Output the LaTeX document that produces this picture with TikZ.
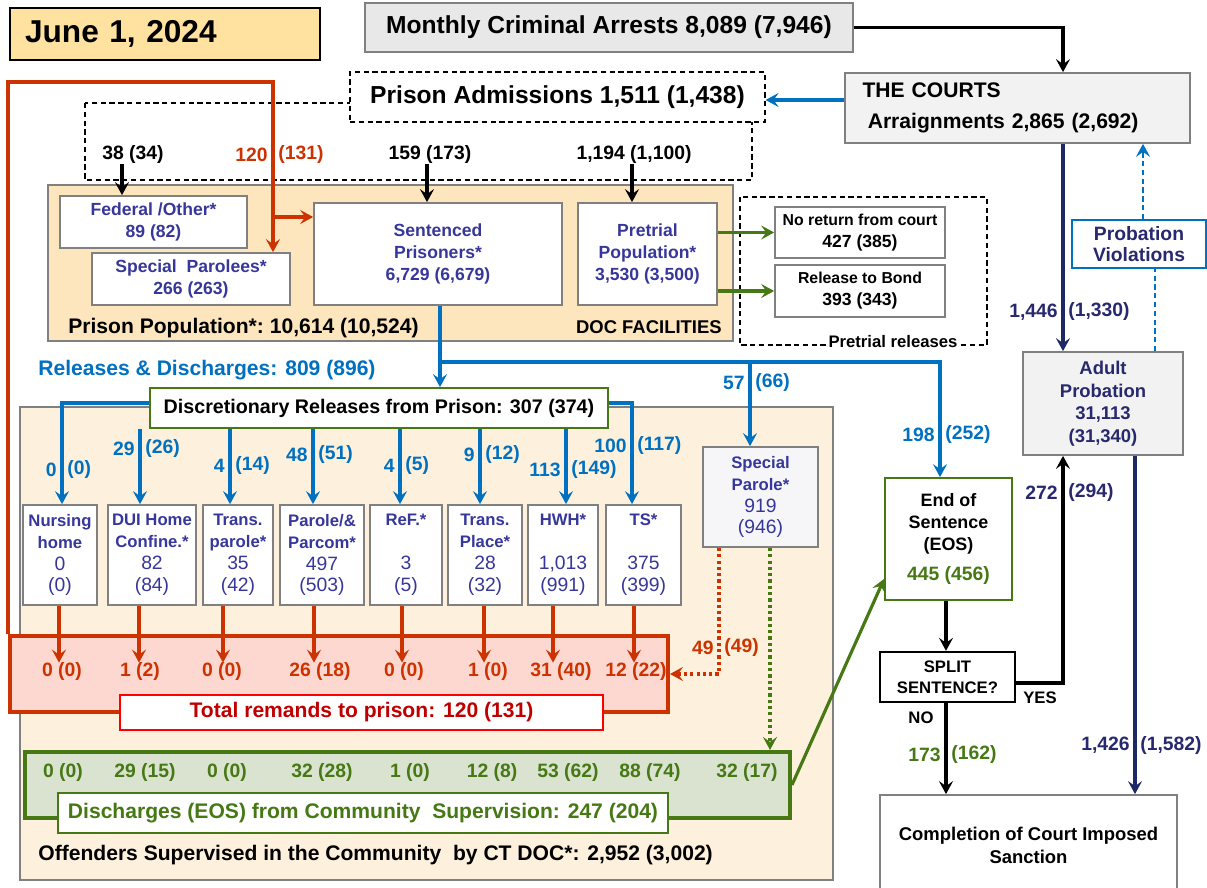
\documentclass[tikz,border=0pt]{standalone}
\usepackage{fontspec}
\setmainfont{Liberation Sans}
\usepackage{tikz}
\usetikzlibrary{shapes,arrows.meta,positioning}

\definecolor{datefill}{RGB}{255,226,160}
\definecolor{grayfill}{RGB}{232,232,232}
\definecolor{boxgray}{RGB}{242,242,242}
\definecolor{spgray}{RGB}{246,246,248}
\definecolor{docfill}{RGB}{253,229,190}
\definecolor{commfill}{RGB}{253,240,220}
\definecolor{remfill}{RGB}{252,216,208}
\definecolor{disfill}{RGB}{217,227,208}
\definecolor{arrblue}{RGB}{0,112,192}
\definecolor{remred}{RGB}{204,51,0}
\definecolor{totred}{RGB}{192,0,0}
\definecolor{boxgreen}{RGB}{70,120,20}
\definecolor{txtindigo}{RGB}{55,55,155}
\definecolor{navyline}{RGB}{30,40,100}
\definecolor{navytxt}{RGB}{40,40,110}
\definecolor{edgegray}{RGB}{128,128,128}

\newcommand{\fsz}[2]{\fontsize{#1}{#2}\selectfont}
% two halves of a flow label, split by the line
\newcommand{\numpair}[6]{%
  \node[#2, anchor=east] (#1a) at (#3-5,#4) {#5};
  \node[#2, anchor=west] (#1b) at (#3+5,#4) {#6};}
\newcommand{\progtext}[4]{#1\\#2\\{\mdseries\fsz{11}{13}#3}\\{\mdseries\fsz{11}{13}#4}}

\tikzstyle{box} = [rectangle, draw=edgegray, line width=1pt, inner sep=0pt, align=center]
\tikzstyle{area} = [rectangle, draw=edgegray, line width=1pt, inner sep=0pt]
\tikzstyle{dashbox} = [draw=black, line width=0.7pt, dash pattern=on 3pt off 2pt]
\tikzstyle{docbox} = [box, fill=white, text=txtindigo, font=\fsz{10}{12.5}\bfseries]
\tikzstyle{prog} = [box, fill=white, text=txtindigo, minimum height=2cm,
  font=\fsz{9.5}{12.5}\bfseries]
\tikzstyle{tip} = [-{Stealth[length=2.6mm,width=2.8mm,inset=1mm]}]
\tikzstyle{karrow} = [draw=black, line width=1.8pt, tip]
\tikzstyle{barrow} = [draw=arrblue, line width=1.8pt, tip]
\tikzstyle{rarrow} = [draw=remred, line width=1.8pt, tip]
\tikzstyle{garrow} = [draw=boxgreen, line width=1.8pt, tip]
\tikzstyle{narrow} = [draw=navyline, line width=1.8pt, tip]
\tikzstyle{dots} = [dash pattern=on 1.8pt off 1.8pt]
\tikzstyle{num} = [inner sep=0pt, font=\fsz{11}{13}\bfseries]
\tikzstyle{blbl} = [num, text=arrblue]

\begin{document}
\begin{tikzpicture}[x=0.02cm, y=-0.02cm]
  \useasboundingbox (0,0) rectangle (1207,888);

  % shaded areas
  \node[area, fill=docfill, minimum width=13.7cm, minimum height=3.12cm] (doc) at (390.5,263) {};
  \node[area, fill=commfill, minimum width=16.26cm, minimum height=9.46cm] (comm) at (426.5,643.5) {};
  \draw[dashbox] (85,103) rectangle (752,180);
  \draw[dashbox] (740,197) rectangle (987,345);

  % top row
  \node[box, draw=black, fill=datefill, minimum width=6.2cm, minimum height=1.04cm,
    text width=5.6cm, inner xsep=0.3cm, align=left, font=\fsz{18}{22}\bfseries] (date) at (165,34) {June 1, 2024};
  \node[box, fill=grayfill, minimum width=9.76cm, minimum height=0.98cm,
    font=\fsz{14}{17}\bfseries] (arrests) at (609,27.5) {Monthly Criminal Arrests 8,089 (7,946)};
  \node[box, fill=boxgray, minimum width=6.9cm, minimum height=1.4cm, text width=6.2cm,
    inner xsep=0.35cm, align=left, font=\fsz{12}{15}\bfseries] (courts) at (1017.5,108) {THE COURTS\\[3pt]\hspace*{3pt}Arraignments 2,865 (2,692)};
  \node[box, draw=black, dash pattern=on 3pt off 2pt, line width=0.7pt, fill=white,
    minimum width=8.3cm, minimum height=1cm, font=\fsz{14}{17}\bfseries] (adm) at (557.5,97) {Prison Admissions 1,511 (1,438)};

  \node[num] (n38) at (133,155) {38 (34)};
  \numpair{n120}{num, text=remred}{273}{155}{120}{(131)}
  \node[num] (n159) at (430,155) {159 (173)};
  \node[num] (n1194) at (634,155) {1,194 (1,100)};

  % DOC facilities
  \node[docbox, minimum width=3.74cm, minimum height=1.04cm] (fed) at (153.5,222) {Federal /Other*\\89 (82)};
  \node[docbox, minimum width=3.96cm, minimum height=1.04cm] (specpar) at (191,279) {Special\ \ Parolees*\\266 (263)};
  \node[docbox, minimum width=4.96cm, minimum height=2.04cm] (sent) at (438,254) {Sentenced\\Prisoners*\\6,729 (6,679)};
  \node[docbox, minimum width=2.78cm, minimum height=2.04cm] (pre) at (647.5,254) {Pretrial\\Population*\\3,530 (3,500)};
  \node[num, anchor=west, font=\fsz{12}{14}\bfseries] (poptxt) at (68,328) {Prison Population*:\ 10,614 (10,524)};
  \node[num, anchor=east, font=\fsz{10.5}{13}\bfseries] (doctxt) at (722,327) {DOC FACILITIES};

  % pretrial releases
  \node[box, fill=white, minimum width=3.4cm, minimum height=1.02cm, font=\fsz{9}{12.5}\bfseries] (noret) at (860,232.5) {No return from court\\{\fsz{10}{12.5}427 (385)}};
  \node[box, fill=white, minimum width=3.4cm, minimum height=1.04cm, font=\fsz{9}{12.5}\bfseries] (bond) at (860,291) {Release to Bond\\{\fsz{10}{12.5}393 (343)}};
  \node[fill=white, inner sep=1.5pt, font=\fsz{9.5}{11}\bfseries] (ptrel) at (893,342) {Pretrial releases};

  % releases
  \node[num, text=arrblue, font=\fsz{12}{14}\bfseries] (reltxt) at (207,370) {Releases \& Discharges: 809 (896)};
  \node[box, draw=boxgreen, fill=white, minimum width=9.16cm, minimum height=0.8cm,
    font=\fsz{11.2}{13}\bfseries] (dr) at (379,408) {Discretionary Releases from Prison: 307 (374)};

  \node[prog, minimum width=1.48cm] (nursing) at (60,555) {\progtext{Nursing}{home}{0}{(0)}};
  \node[prog, minimum width=1.76cm] (dui) at (152,555) {\progtext{DUI Home}{Confine.*}{82}{(84)}};
  \node[prog, minimum width=1.4cm] (tpar) at (238,555) {\progtext{Trans.}{parole*}{35}{(42)}};
  \node[prog, minimum width=1.68cm] (parole) at (322,555) {\progtext{Parole/\&}{Parcom*}{497}{(503)}};
  \node[prog, minimum width=1.44cm] (ref) at (406,555) {\progtext{ReF.*}{\mbox{}}{3}{(5)}};
  \node[prog, minimum width=1.48cm] (tplace) at (485,555) {\progtext{Trans.}{Place*}{28}{(32)}};
  \node[prog, minimum width=1.4cm] (hwh) at (563,555) {\progtext{HWH*}{\mbox{}}{1,013}{(991)}};
  \node[prog, minimum width=1.5cm] (ts) at (643.5,555) {\progtext{TS*}{\mbox{}}{375}{(399)}};
  \node[prog, fill=spgray, minimum width=2.3cm] (specparole) at (760.5,497) {\progtext{Special}{Parole*}{919}{(946)}};

  \numpair{b0}{blbl}{62}{470}{0}{(0)}
  \numpair{b29}{blbl}{140}{449}{29}{(26)}
  \numpair{b4}{blbl}{230}{466}{4}{(14)}
  \numpair{b48}{blbl}{313}{455}{48}{(51)}
  \numpair{b4r}{blbl}{400}{466}{4}{(5)}
  \numpair{b9}{blbl}{480}{455}{9}{(12)}
  \numpair{b113}{blbl}{566}{470}{113}{(149)}
  \numpair{b100}{blbl}{632}{446}{100}{(117)}
  \numpair{b57}{blbl}{750}{383}{57}{(66)}
  \numpair{b198}{blbl}{940}{435}{198}{(252)}

  % remands and discharges
  \node[box, draw=remred, line width=2.3pt, fill=remfill, minimum width=13.16cm, minimum height=1.52cm] (remand) at (339,674) {};
  \foreach \i/\xx/\vv in {1/62/0 (0), 2/140/1 (2), 3/222/0 (0), 4/320/26 (18),
    5/404/0 (0), 6/488/1 (0), 7/561/31 (40), 8/636/12 (22)}
    \node[num, text=remred] (rem\i) at (\xx,672) {\vv};
  \node[box, draw=red, line width=1.2pt, fill=white, minimum width=9.66cm, minimum height=0.7cm,
    text=totred, font=\fsz{12}{14}\bfseries] (remtot) at (361.5,712.5) {Total remands to prison: 120 (131)};
  \numpair{r49}{num, text=remred}{719}{648}{49}{(49)}

  \node[box, draw=boxgreen, line width=2.3pt, fill=disfill, minimum width=15.3cm, minimum height=1.32cm] (disch) at (407.5,785) {};
  \foreach \i/\xx/\vv in {1/63/0 (0), 2/145/29 (15), 3/227/0 (0), 4/322/32 (28), 5/410/1 (0),
    6/492/12 (8), 7/568/53 (62), 8/650/88 (74), 9/747/32 (17)}
    \node[num, text=boxgreen] (dis\i) at (\xx,772) {\vv};
  \node[box, draw=boxgreen, line width=1.2pt, fill=white, minimum width=12.2cm, minimum height=0.8cm,
    text=boxgreen, font=\fsz{12}{14}\bfseries] (distot) at (363,813) {Discharges (EOS) from Community\ \ Supervision: 247 (204)};
  \node[num, anchor=west, font=\fsz{12}{14}\bfseries] (offtxt) at (38,855) {Offenders Supervised in the Community\ \ by CT DOC*: 2,952 (3,002)};

  % right column
  \node[box, draw=boxgreen, fill=white, minimum width=2.54cm, minimum height=2.44cm,
    font=\fsz{10.2}{12.5}\bfseries] (eos) at (948.5,539) {End of\\Sentence\\(EOS)\\[5pt]{\color{boxgreen}\fsz{11}{13}445 (456)}};
  \node[box, draw=black, line width=1.3pt, fill=white, minimum width=2.7cm, minimum height=1cm,
    font=\fsz{9.5}{12}\bfseries] (split) at (947.5,677) {SPLIT\\SENTENCE?};
  \node[num, font=\fsz{9.5}{11}\bfseries] (yes) at (1040,698) {YES};
  \node[num, font=\fsz{9.5}{11}\bfseries] (no) at (921,718) {NO};
  \node[box, fill=boxgray, minimum width=3.2cm, minimum height=2.06cm, text=navytxt,
    font=\fsz{10.5}{12.8}\bfseries] (adult) at (1103,403.5) {Adult\\Probation\\31,113\\(31,340)};
  \node[box, draw=arrblue, fill=white, minimum width=2.68cm, minimum height=0.96cm, text=navytxt,
    font=\fsz{11}{12}\bfseries] (pv) at (1139,244) {Probation\\Violations};
  \node[box, fill=white, minimum width=5.94cm, minimum height=2cm,
    font=\fsz{10.5}{13}\bfseries] (comp) at (1028.5,845) {Completion of Court Imposed\\Sanction};

  \numpair{p1446}{num, text=navytxt}{1063}{312}{1,446}{(1,330)}
  \numpair{p272}{num, text=navytxt}{1063}{493}{272}{(294)}
  \numpair{p173}{num, text=boxgreen}{946}{755}{173}{(162)}
  \numpair{p1426}{num, text=navytxt}{1135}{745}{1,426}{(1,582)}

  % connectors
  \draw[karrow] (arrests.east) -| (courts.north -| 1063,0);
  \draw[barrow] (courts.west |- 0,100) -- (adm.east |- 0,100);
  \draw[karrow] (n38.south -| 122,0) -- (fed.north -| 122,0);
  \draw[karrow] (n159.south -| 427,0) -- (sent.north -| 427,0);
  \draw[karrow] (n1194.south -| 632,0) -- (pre.north -| 632,0);
  \draw[rarrow] (remand.north west) |- (273,82) -- (specpar.north -| 273,0);
  \draw[rarrow] (273,217) -- (sent.west |- 0,217);
  \draw[garrow] (pre.east |- noret) -- (noret.west);
  \draw[garrow] (pre.east |- bond) -- (bond.west);

  \draw[barrow] (sent.south -| 440,0) -- (dr.north -| 440,0);
  \draw[barrow] (440,362) -| (eos.north -| 940,0);
  \draw[barrow] (750,362) -- (specparole.north -| 750,0);
  \draw[barrow] (dr.west |- 0,403) -| (nursing.north -| 62,0);
  \draw[barrow] (dr.east |- 0,403) -| (ts.north -| 632,0);
  \foreach \nm/\xx in {dui/140, tpar/230, parole/313, ref/400, tplace/480, hwh/566}
    \draw[barrow] (dr.south -| \xx,0) -- (\nm.north -| \xx,0);

  \foreach \nm/\xx/\i in {nursing/59/1, dui/139/2, tpar/223/3, parole/314/4,
    ref/402/5, tplace/484/6, hwh/553/7, ts/634/8}
    \draw[rarrow] (\nm.south -| \xx,0) -- (rem\i.north -| \xx,0);

  \draw[rarrow, dots] (specparole.south -| 719,0) |- (remand.east);
  \draw[garrow, dots] (specparole.south -| 770,0) -- (disch.north -| 770,0);
  \draw[garrow] (disch.east) -- ([yshift=0.44cm]eos.south west);

  \draw[karrow] (eos.south -| 946,0) -- (split.north -| 946,0);
  \draw[karrow] (split.east |- 0,683) -| (adult.south -| 1063,0);
  \draw[karrow] (split.south -| 946,0) -- (comp.north -| 946,0);
  \draw[narrow] (courts.south -| 1063,0) -- (adult.north -| 1063,0);
  \draw[narrow] (adult.south -| 1135,0) -- (comp.north -| 1135,0);
  \draw[draw=arrblue, line width=1pt, dash pattern=on 3pt off 2pt] (adult.north -| 1155,0) -- (pv.south -| 1155,0);
  \draw[draw=arrblue, line width=1pt, dash pattern=on 3pt off 2pt, tip] (pv.north -| 1143,0) -- (courts.south -| 1143,0);
\end{tikzpicture}
\end{document}
